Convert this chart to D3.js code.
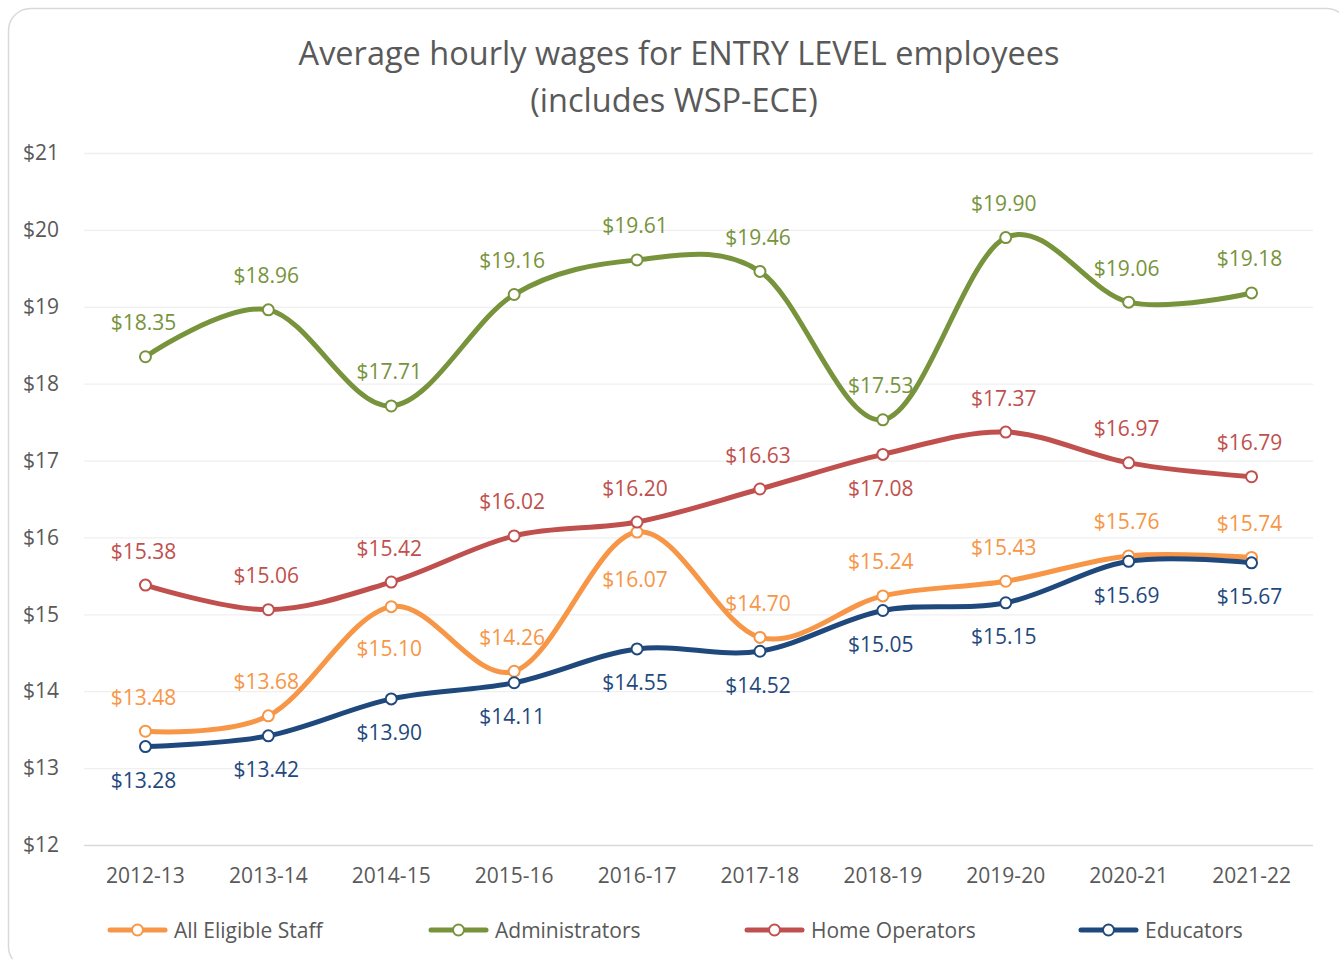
<!DOCTYPE html>
<html><head><meta charset="utf-8">
<script src="https://cdn.jsdelivr.net/npm/d3@7"></script>
<style>html,body{margin:0;padding:0;background:#fff;} svg{display:block;font-family:"Open Sans",sans-serif;}</style>
</head><body>
<svg id="c" width="1339" height="959"></svg>
<script>
const categories = ["2012-13","2013-14","2014-15","2015-16","2016-17","2017-18","2018-19","2019-20","2020-21","2021-22"];
const allEligible = [13.48,13.68,15.10,14.26,16.07,14.70,15.24,15.43,15.76,15.74];
const administrators = [18.35,18.96,17.71,19.16,19.61,19.46,17.53,19.90,19.06,19.18];
const homeOperators = [15.38,15.06,15.42,16.02,16.20,16.63,17.08,17.37,16.97,16.79];
const educators = [13.28,13.42,13.90,14.11,14.55,14.52,15.05,15.15,15.69,15.67];
const yTicks = [12,13,14,15,16,17,18,19,20,21];
// label placement per point: "a" = above, "b" = below, "bb" = further below
const allEligibleSide = ["a","a","bb","a","bbb","a","a","a","a","a"];
const administratorsSide = ["a","a","a","a","a","a","a","a","a","a"];
const homeOperatorsSide = ["a","a","a","a","a","a","b","a","a","a"];
const educatorsSide = ["b","b","b","b","b","b","b","b","b","b"];
const placeOffset = {a:-26.5, b:41.5, bb:49.5, bbb:54.5};

const series = [
  {name:"All Eligible Staff", values:allEligible, side:allEligibleSide, color:"#F79646"},
  {name:"Administrators", values:administrators, side:administratorsSide, color:"#77933C"},
  {name:"Home Operators", values:homeOperators, side:homeOperatorsSide, color:"#C0504D"},
  {name:"Educators", values:educators, side:educatorsSide, color:"#1F497D"}
];

const svg = d3.select("#c");
svg.append("rect").attr("x",8.5).attr("y",8.5).attr("width",1340).attr("height",960)
  .attr("rx",22).attr("fill","#fff").attr("stroke","#d9d9d9").attr("stroke-width",1.5);

const pL=84, pR=1313, pT=153, pB=845;
const x = d3.scaleBand().domain(categories).range([pL,pR]);
const y = d3.scaleLinear().domain([12,21]).range([pB,pT]);
const cx = d => x(d)+x.bandwidth()/2;

// title
const title = svg.append("text").attr("text-anchor","middle").attr("fill","#595959")
  .style("font-size","32.5px");
title.append("tspan").attr("x",679).attr("y",65).text("Average hourly wages for ENTRY LEVEL employees");
title.append("tspan").attr("x",674).attr("y",112).text("(includes WSP-ECE)");

// grid
const yAxis = d3.axisLeft(y).tickValues(yTicks).tickSize(-(pR-pL)).tickFormat(d=>"$"+d).tickPadding(25);
const ga = svg.append("g").attr("transform",`translate(${pL},0)`).call(yAxis);
ga.select(".domain").remove();
ga.selectAll(".tick line").attr("stroke",d=>d===12?"#d9d9d9":"#efefef").attr("stroke-width",1.3);
ga.selectAll(".tick text").attr("fill","#595959").style("font-size","21px").attr("font-family","Open Sans");

const xAxis = d3.axisBottom(x).tickSize(0).tickPadding(23);
const gx = svg.append("g").attr("transform",`translate(0,${pB})`).call(xAxis);
gx.select(".domain").remove();
gx.selectAll(".tick text").attr("fill","#595959").style("font-size","21px").attr("font-family","Open Sans");

const line = d3.line().x((d,i)=>cx(categories[i])).y(d=>y(d)).curve(d3.curveCardinal.tension(0));

series.forEach(s=>{
  svg.append("path").attr("d",line(s.values)).attr("fill","none").attr("stroke",s.color)
    .attr("stroke-width",5).attr("stroke-linecap","round").attr("stroke-linejoin","round");
});
series.forEach(s=>{
  svg.append("g").selectAll("circle").data(s.values).join("circle")
    .attr("cx",(d,i)=>cx(categories[i])).attr("cy",d=>y(d)).attr("r",5.5)
    .attr("fill","#fff").attr("stroke",s.color).attr("stroke-width",2);
});
series.forEach(s=>{
  svg.append("g").selectAll("text").data(s.values).join("text")
    .attr("x",(d,i)=>cx(categories[i])-2).attr("y",(d,i)=>y(d)+placeOffset[s.side[i]])
    .attr("text-anchor","middle").attr("fill",s.color).style("font-size","21px")
    .text(d=>"$"+d.toFixed(2));
});

// legend
const legX = [110,431,747,1081];
series.forEach((s,i)=>{
  const g = svg.append("g").attr("transform",`translate(${legX[i]},930)`);
  g.append("line").attr("x1",0).attr("x2",55).attr("y1",0).attr("y2",0).attr("stroke",s.color)
    .attr("stroke-width",5).attr("stroke-linecap","round");
  g.append("circle").attr("cx",27.5).attr("cy",0).attr("r",5.5).attr("fill","#fff").attr("stroke",s.color).attr("stroke-width",2);
  g.append("text").attr("x",64).attr("y",7.5).attr("fill","#595959").style("font-size","21px").text(s.name);
});
</script>
</body></html>
